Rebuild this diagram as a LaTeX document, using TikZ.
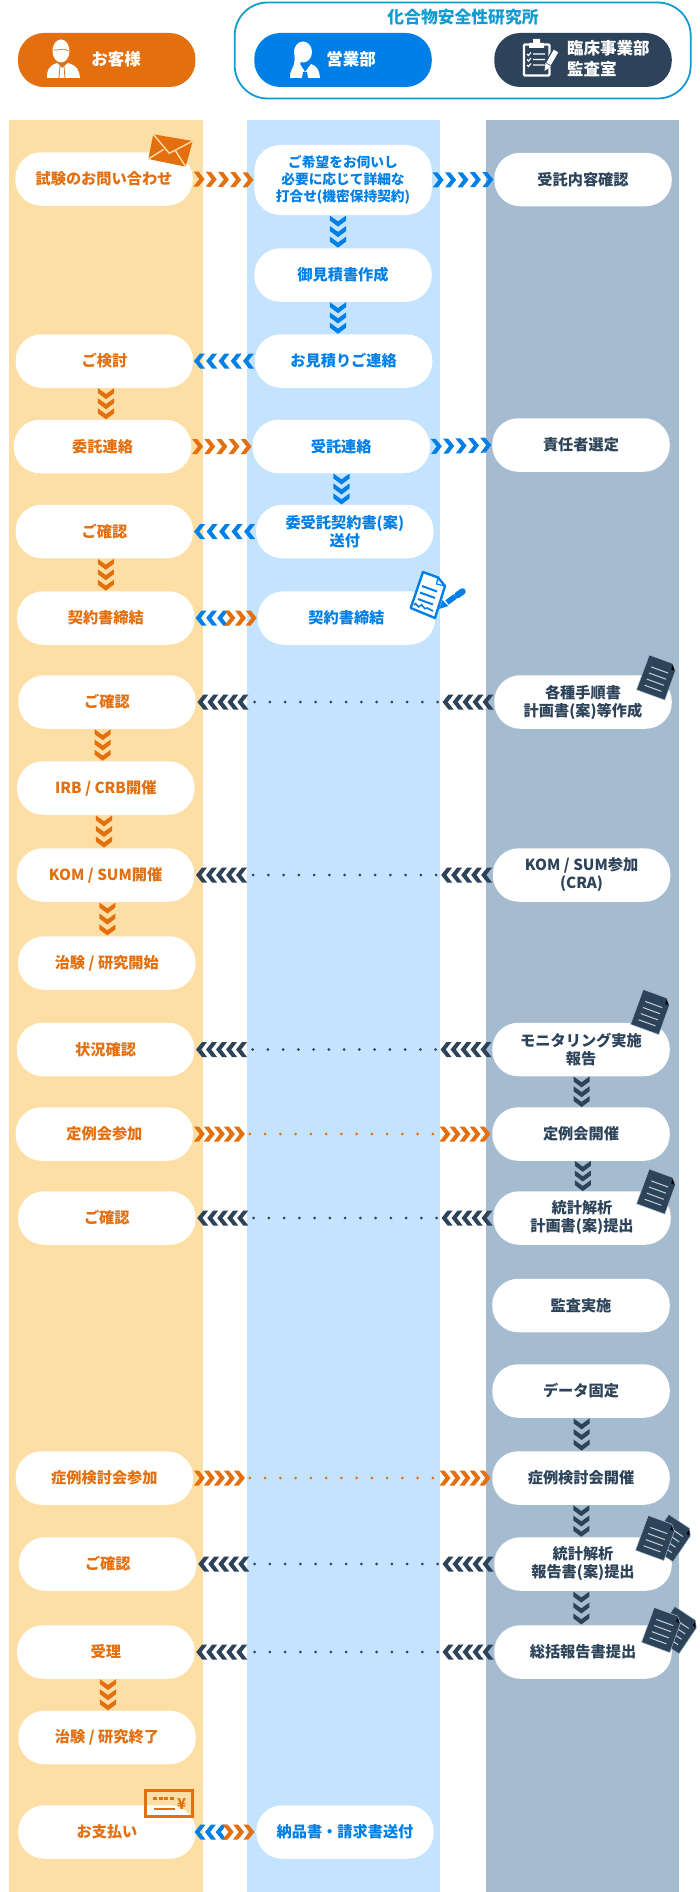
\documentclass[tikz,border=0pt]{standalone}
\usepackage{fontspec}
\setmainfont{Noto Sans CJK JP}
\usetikzlibrary{decorations.markings}
\definecolor{ccust}{HTML}{E36F0E}
\definecolor{csales}{HTML}{0080E6}
\definecolor{caudit}{HTML}{2C4359}
\definecolor{cgroup}{HTML}{119BD0}
\definecolor{bandcust}{HTML}{FDDFA5}
\definecolor{bandsales}{HTML}{C3E3FF}
\definecolor{bandaudit}{HTML}{A5BBD0}
\newcommand{\chevtip}[1]{\fill[#1] (-5.5,-7.5) -- (-0.5,-7.5) -- (5.5,0) -- (-0.5,7.5) -- (-5.5,7.5) -- (0.3,0) -- cycle;}
\newcommand{\sheetbody}{
	\filldraw[fill=caudit, draw=bandaudit, line width=0.5pt] (-15,-18.5) -- (10,-18.5) -- (15,-12.5) -- (15,18.5) -- (-15,18.5) -- cycle;
	\fill[black] (10.5,-17) -- (14,-12.5) -- (10.5,-12.5) -- cycle;
	\foreach \ly in {-8,-1.5,5,11.5}
		\draw[white!75!caudit, line width=1pt] (-9,\ly) -- (9,\ly);
}
\tikzset{
	flowpill/.style={fill=white, rectangle, rounded corners=26pt, minimum width=177.5pt, minimum height=53.5pt, inner sep=0pt, align=center, font=\fontsize{15.2}{18}\selectfont\bfseries},
	cust/.style={flowpill, text=ccust},
	sales/.style={flowpill, text=csales},
	audit/.style={flowpill, text=caudit},
	headpill/.style={rectangle, rounded corners=26pt, minimum width=177.5pt, minimum height=54pt, inner sep=0pt},
	headtext/.style={text=white, inner sep=0pt, align=left, font=\fontsize{16.5}{21}\selectfont\bfseries},
	chevgo/.style={draw=none, postaction={decorate, decoration={markings, mark=between positions 0.1 and 0.91 step 0.2 with {\chevtip{#1}}}}},
	chevdown/.style={draw=none, postaction={decorate, decoration={markings, mark=between positions 0.18 and 0.84 step 0.32 with {\chevtip{#1, yscale=1.07}}}}},
	chevdots/.style={draw=#1, line width=3pt, line cap=round, dash pattern=on 0pt off 15.25pt, shorten <=56.5pt, shorten >=56.5pt,
		postaction={decorate, decoration={markings, mark=between positions 6pt and 47pt step 10pt with {\chevtip{#1}}, mark=between positions -47pt and -6pt step 10pt with {\chevtip{#1}}}}},
	chevboth/.style={draw=none, postaction={decorate, decoration={markings,
		mark=at position 0.1 with {\chevtip{csales, xscale=-1}}, mark=at position 0.27 with {\chevtip{csales, xscale=-1}}, mark=at position 0.445 with {\chevtip{csales, xscale=-1}},
		mark=at position 0.56 with {\chevtip{ccust}}, mark=at position 0.73 with {\chevtip{ccust}}, mark=at position 0.9 with {\chevtip{ccust}}}}},
	docsheet/.pic={\sheetbody},
	docpair/.pic={
		\begin{scope}[shift={(14,-5)}, rotate=-14]
			\sheetbody
		\end{scope}
		\sheetbody
	}
}
\begin{document}
\begin{tikzpicture}[x=1pt, y=-1pt]
	\useasboundingbox (0,0) rectangle (700,1892);
	% columns
	\fill[bandcust] (9,120) rectangle (203,1892);
	\fill[bandsales] (247,120) rectangle (440,1892);
	\fill[bandaudit] (486,120) rectangle (679,1892);

	% header
	\node[draw=cgroup, line width=1.8pt, rectangle, rounded corners=33pt, minimum width=456pt, minimum height=96pt, inner sep=0pt] (lab) at (462.7,50.5) {};
	\node[inner sep=0pt, text=cgroup, font=\fontsize{16.8}{20}\selectfont\bfseries] (labtitle) at (463,17) {化合物安全性研究所};
	\node[headpill, fill=ccust] (headcust) at (106.7,60) {};
	\node[headpill, fill=csales] (headsales) at (343,60) {};
	\node[headpill, fill=caudit] (headaudit) at (583,60) {};
	\node[headtext] (headcustt) at (116,59) {お客様};
	\node[headtext] (headsalest) at (351,59) {営業部};
	\node[headtext, anchor=west] (headauditt) at (567,59) {臨床事業部\\監査室};

	% man
	\fill[white] (47,78) .. controls (47,69) and (49,66) .. (57,63) -- (62,68) -- (68,63) .. controls (77,66) and (79,69) .. (80,78) -- cycle;
	\fill[white] (61,51) ellipse (8.5 and 11.5);
	\draw[ccust, line width=0.7pt] (53.5,50) .. controls (58,51) and (64,47) .. (68.5,51);
	\draw[ccust, line width=0.8pt] (60,66) -- (59,78) (64,66) -- (65,78);
	% woman
	\fill[white] (290,78) .. controls (290,70) and (292,67) .. (300,64) -- (305,72) -- (311,64) .. controls (318,67) and (319,70) .. (320,78) -- cycle;
	\fill[white] (303,52) ellipse (9 and 10.5);
	\fill[white] (295,50) .. controls (294,58) and (296,62) .. (292,69) -- (299,69) .. controls (301,64) and (301,60) .. (300,56) -- cycle;
	\fill[csales] (303,72) -- (307,72) -- (308,78) -- (302,78) -- cycle;
	% clipboard
	\draw[white, line width=2.2pt, rounded corners=1pt] (524,44.5) rectangle (549.5,75.5);
	\fill[white] (529,43) -- (533,43) -- (533,39) -- (540,39) -- (540,43) -- (544,43) -- (544,48) -- (529,48) -- cycle;
	\foreach \cy in {54,59.5,65}
		\draw[white, line width=1.1pt] (527,\cy) -- (528.5,\cy+1.5) -- (531,\cy-1.5) (533,\cy) -- (545,\cy);
	\draw[caudit, line width=8pt] (547.5,66) -- (556,51);
	\draw[white, line width=5.2pt] (548.5,64) -- (556,51);
	\fill[white] (544.5,71) -- (545.5,63) -- (551,66.5) -- cycle;

	% customer
	\node[cust] (cust1) at (104,179) {試験のお問い合わせ};
	\node[cust] (cust2) at (104.4,361) {ご検討};
	\node[cust] (cust3) at (102.6,446.5) {委託連絡};
	\node[cust] (cust4) at (104.4,531.5) {ご確認};
	\node[cust] (cust5) at (105.8,618) {契約書締結};
	\node[cust] (cust6) at (107,702) {ご確認};
	\node[cust] (cust7) at (105.8,788) {IRB / CRB開催};
	\node[cust] (cust8) at (105.6,875) {KOM / SUM開催};
	\node[cust] (cust9) at (106.8,963) {治験 / 研究開始};
	\node[cust] (cust10) at (105.6,1049.5) {状況確認};
	\node[cust] (cust11) at (104.4,1134) {定例会参加};
	\node[cust] (cust12) at (106.8,1218) {ご確認};
	\node[cust] (cust13) at (104.4,1478) {症例検討会参加};
	\node[cust] (cust14) at (107.8,1564) {ご確認};
	\node[cust] (cust15) at (105.8,1652) {受理};
	\node[cust] (cust16) at (107,1737.5) {治験 / 研究終了};
	\node[cust] (cust17) at (107,1832) {お支払い};
	% sales
	\node[sales, minimum height=70pt, font=\fontsize{13.7}{16.7}\selectfont\bfseries] (sales1) at (343,180) {ご希望をお伺いし\\必要に応じて詳細な\\打合せ(機密保持契約)};
	\node[sales] (sales2) at (343,275) {御見積書作成};
	\node[sales] (sales3) at (343.6,361) {お見積りご連絡};
	\node[sales] (sales4) at (341.2,446.5) {受託連絡};
	\node[sales] (sales5) at (344.8,531.5) {委受託契約書(案)\\送付};
	\node[sales] (sales6) at (346.4,618) {契約書締結};
	\node[sales] (sales7) at (345,1832) {納品書・請求書送付};
	% audit
	\node[audit] (audit1) at (583,179.5) {受託内容確認};
	\node[audit] (audit2) at (581,445) {責任者選定};
	\node[audit] (audit3) at (583,702) {各種手順書\\計画書(案)等作成};
	\node[audit] (audit4) at (581.6,875) {KOM / SUM参加\\(CRA)};
	\node[audit] (audit5) at (581,1049.5) {モニタリング実施\\報告};
	\node[audit] (audit6) at (581,1134) {定例会開催};
	\node[audit] (audit7) at (582,1218) {統計解析\\計画書(案)提出};
	\node[audit] (audit8) at (581,1305.5) {監査実施};
	\node[audit] (audit9) at (581,1391) {データ固定};
	\node[audit] (audit10) at (581,1478) {症例検討会開催};
	\node[audit] (audit11) at (583,1564) {統計解析\\報告書(案)提出};
	\node[audit] (audit12) at (583,1652) {総括報告書提出};

	% across
	\draw[chevgo=ccust] (cust1.east) -- (sales1.west);
	\draw[chevgo=csales] (sales1.east) -- (audit1.west);
	\draw[chevgo=csales] (sales3.west) -- (cust2.east);
	\draw[chevgo=ccust] (cust3.east) -- (sales4.west);
	\draw[chevgo=csales] (sales4.east) -- (audit2.west);
	\draw[chevgo=csales] (sales5.west) -- (cust4.east);
	\draw[chevboth] (cust5.east) -- (sales6.west);
	\draw[chevboth] ([xshift=-2pt]cust17.east) -- ([xshift=-1pt]sales7.west);
	\draw[chevdots=caudit] (audit3.west) -- (cust6.east);
	\draw[chevdots=caudit] (audit4.west) -- (cust8.east);
	\draw[chevdots=caudit] (audit5.west) -- (cust10.east);
	\draw[chevdots=ccust] (cust11.east) -- (audit6.west);
	\draw[chevdots=caudit] (audit7.west) -- (cust12.east);
	\draw[chevdots=ccust] (cust13.east) -- (audit10.west);
	\draw[chevdots=caudit] (audit11.west) -- (cust14.east);
	\draw[chevdots=caudit] (audit12.west) -- (cust15.east);
	% down
	\draw[chevdown=csales] ([xshift=-5pt]sales1.south) -- ([xshift=-5pt]sales2.north);
	\draw[chevdown=csales] ([xshift=-5pt]sales2.south) -- ([xshift=-5.6pt]sales3.north);
	\draw[chevdown=csales] ([xshift=0.3pt]sales4.south) -- ([xshift=-3.3pt]sales5.north);
	\draw[chevdown=ccust] ([xshift=1.6pt]cust2.south) -- ([xshift=3.4pt]cust3.north);
	\draw[chevdown=ccust] ([xshift=1.4pt]cust4.south) -- (cust5.north);
	\draw[chevdown=ccust] ([xshift=-4.3pt]cust6.south) -- ([xshift=-3.1pt]cust7.north);
	\draw[chevdown=ccust] ([xshift=-1.8pt]cust7.south) -- ([xshift=-1.6pt]cust8.north);
	\draw[chevdown=ccust] ([xshift=1.8pt]cust8.south) -- ([xshift=0.6pt]cust9.north);
	\draw[chevdown=ccust] ([xshift=2.2pt]cust15.south) -- ([xshift=1pt]cust16.north);
	\draw[chevdown=caudit] ([xshift=0.6pt]audit5.south) -- ([xshift=0.6pt]audit6.north);
	\draw[chevdown=caudit] ([xshift=1.8pt]audit6.south) -- ([xshift=0.8pt]audit7.north);
	\draw[chevdown=caudit] ([xshift=0.6pt]audit9.south) -- ([xshift=0.6pt]audit10.north);
	\draw[chevdown=caudit] ([xshift=0.3pt]audit10.south) -- ([xshift=-1.7pt]audit11.north);
	\draw[chevdown=caudit] ([xshift=-1.7pt]audit11.south) -- ([xshift=-1.7pt]audit12.north);

	% envelope
	\fill[ccust] (153.3,134.3) -- (192.7,141) -- (185.7,166.7) -- (148.3,159) -- cycle;
	\draw[bandcust, line width=1.4pt] (153.3,134.3) -- (169.3,153.3) -- (192.7,141) (148.3,159) -- (163.5,149.5) (185.7,166.7) -- (175,150);
	% contract
	\filldraw[draw=csales, fill=white, line width=2.4pt, line join=round] (423,572) -- (438,577.5) -- (445,586) -- (435,618) -- (410.7,608) -- cycle;
	\draw[csales, line width=1.2pt] (438,577.5) -- (436.5,584) -- (445,586);
	\draw[csales, line width=2pt] (422,586) -- (437,591.5) (420,592.5) -- (435,598) (418,599) -- (433,604.5);
	\draw[csales, line width=1.6pt] (414,605) .. controls (416,600) and (418,610) .. (420,606) .. controls (422,601) and (424,612) .. (427,608) -- (433,611);
	\draw[csales, line width=5.5pt] (447,602.5) -- (455,596.5);
	\draw[csales, line width=6.5pt, line cap=round] (457.5,595) -- (462.5,591.5);
	\fill[csales] (439,609) -- (442.5,600) -- (448.5,606) -- cycle;
	% sheets
	\pic[rotate=-20] (sheet3) at (657,677.5) {docsheet};
	\pic[rotate=-20] (sheet5) at (651,1012) {docsheet};
	\pic[rotate=-20] (sheet7) at (657,1191.5) {docsheet};
	\pic[rotate=-20] (pair11) at (656,1538) {docpair};
	\pic[rotate=-20] (pair12) at (662,1630) {docpair};
	% invoice
	\draw[ccust, line width=3pt] (145.5,1790.8) rectangle (192.8,1816.8);
	\foreach \sx in {153,158.5,164,169.5}
		\fill[ccust] (\sx,1796.5) rectangle +(4,3);
	\draw[ccust, line width=2pt] (154,1809) -- (175,1809);
	\node[inner sep=0pt, text=ccust, font=\fontsize{15}{15}\selectfont\bfseries] (yen) at (181.7,1804) {¥};
\end{tikzpicture}
\end{document}
